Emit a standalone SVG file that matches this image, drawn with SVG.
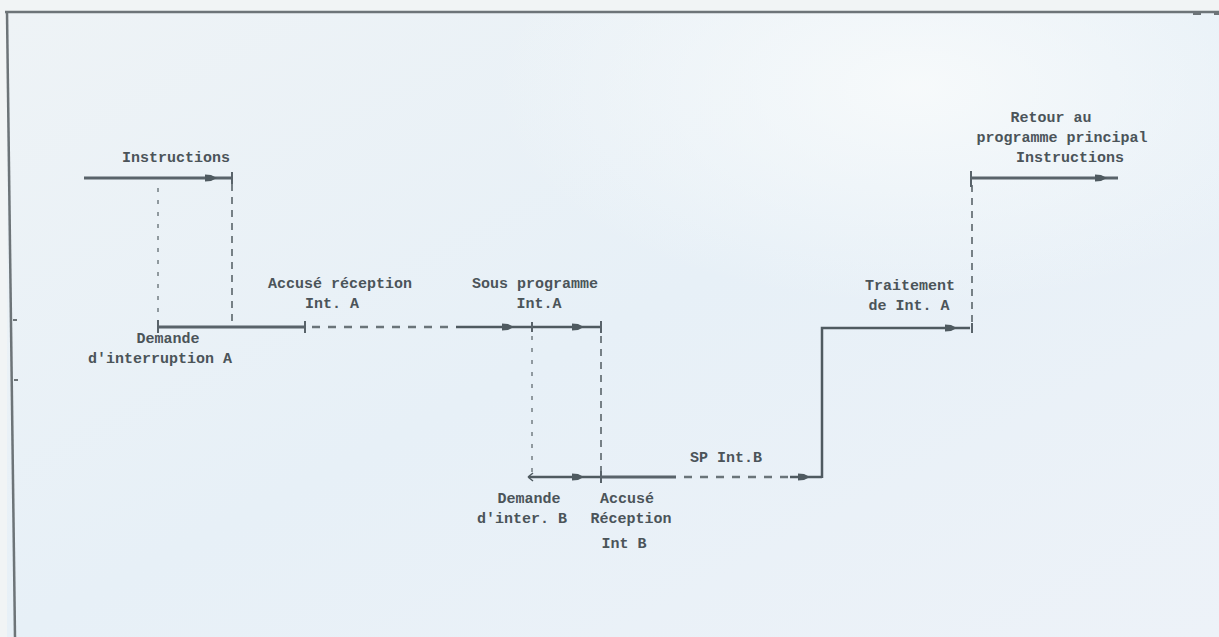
<svg xmlns="http://www.w3.org/2000/svg" width="1219" height="637" viewBox="0 0 1219 637">
  <defs>
    <linearGradient id="bg" x1="0" y1="0" x2="1" y2="1">
      <stop offset="0" stop-color="#eef3f6"/>
      <stop offset="0.5" stop-color="#e7f0f7"/>
      <stop offset="1" stop-color="#edf2f8"/>
    </linearGradient>
    <radialGradient id="glow" cx="0.75" cy="0.12" r="0.35">
      <stop offset="0" stop-color="#f7fafb" stop-opacity="0.95"/>
      <stop offset="1" stop-color="#f7fafb" stop-opacity="0"/>
    </radialGradient>
    <!-- small filled arrowhead sitting on a timing line -->
    <path id="ah" d="M-8,-3.5 L-2,-3 L4,0 L-2,3 L-8,3.5 Z" fill="#4f5a60"/>
    <style>
      .lbl { font-family: "Liberation Mono", "DejaVu Sans Mono", monospace; font-size: 15px; fill: #4b5459; text-anchor: middle; font-weight: bold; }
      .solid { stroke: #59636a; stroke-width: 3; fill: none; }
      .thin { stroke: #4f5a60; stroke-width: 2.5; fill: none; }
      .dash { stroke: #6a7479; stroke-width: 2.5; stroke-dasharray: 8 8; fill: none; }
      .vdash { stroke: #6a7479; stroke-width: 1.8; stroke-dasharray: 7 6; fill: none; }
      .vdot { stroke: #7a8489; stroke-width: 1.6; stroke-dasharray: 4 8; fill: none; }
      .tick { stroke: #59636a; stroke-width: 2; }
    </style>
  </defs>

  <!-- paper -->
  <rect width="1219" height="637" fill="#f1f4f5"/>
  <rect x="7" y="12" width="1212" height="625" fill="url(#bg)"/>
  <rect x="7" y="12" width="1212" height="625" fill="url(#glow)"/>

  <!-- frame -->
  <g id="frame">
    <line x1="5" y1="12" x2="1219" y2="12" stroke="#6d7478" stroke-width="2.5"/>
    <line x1="7" y1="12" x2="15" y2="637" stroke="#6d7478" stroke-width="2.5"/>
    <line x1="13" y1="320" x2="17" y2="320" stroke="#6d7478" stroke-width="2"/>
    <line x1="14" y1="380" x2="18" y2="380" stroke="#6d7478" stroke-width="2"/>
    <line x1="1193" y1="14" x2="1201" y2="14" stroke="#6d7478" stroke-width="2"/>
    <line x1="1214" y1="14" x2="1219" y2="14" stroke="#6d7478" stroke-width="2"/>
  </g>

  <!-- timing lines and transitions -->
  <g id="connectors">
    <!-- main program, instructions -->
    <line class="solid" x1="84" y1="178" x2="231" y2="178"/>
    <line class="tick" x1="232" y1="172" x2="232" y2="184"/>
    <use href="#ah" x="213" y="178"/>
    <line class="vdash" x1="232" y1="184" x2="232" y2="325"/>
    <line class="vdot" x1="158" y1="188" x2="158" y2="325"/>

    <!-- interrupt A request / acknowledge -->
    <line class="solid" x1="158" y1="327" x2="304" y2="327"/>
    <line class="tick" x1="158" y1="320" x2="158" y2="333"/>
    <line class="tick" x1="305" y1="321" x2="305" y2="333"/>
    <line class="dash" x1="312" y1="327" x2="455" y2="327"/>

    <!-- subroutine Int.A -->
    <line class="thin" x1="456" y1="327" x2="600" y2="327"/>
    <use href="#ah" x="510" y="327"/>
    <use href="#ah" x="580" y="327"/>
    <line class="tick" x1="532" y1="322" x2="532" y2="332"/>
    <line class="tick" x1="601" y1="321" x2="601" y2="333"/>
    <line class="vdot" x1="532" y1="336" x2="532" y2="474"/>
    <line class="vdash" x1="601" y1="336" x2="601" y2="472"/>

    <!-- interrupt B -->
    <line class="thin" x1="529" y1="477" x2="600" y2="477"/>
    <path d="M528,477 L533,473 M528,477 L533,481" stroke="#4f5a60" stroke-width="1.5"/>
    <use href="#ah" x="580" y="477"/>
    <line class="tick" x1="601" y1="471" x2="601" y2="483"/>
    <line class="solid" x1="602" y1="477" x2="676" y2="477"/>
    <line class="dash" x1="684" y1="477" x2="790" y2="477"/>
    <line class="thin" x1="790" y1="477" x2="822" y2="477"/>
    <use href="#ah" x="806" y="477"/>

    <!-- return to Int.A processing -->
    <polyline class="thin" points="822,478 822,328 970,328"/>
    <use href="#ah" x="953" y="328"/>
    <line class="tick" x1="972" y1="323" x2="972" y2="333"/>
    <line class="vdash" x1="972" y1="322" x2="972" y2="184"/>

    <!-- back to main program -->
    <line class="tick" x1="971" y1="171" x2="971" y2="187"/>
    <line class="solid" x1="971" y1="178" x2="1118" y2="178"/>
    <use href="#ah" x="1103" y="178"/>
  </g>

  <!-- labels -->
  <g id="n-instructions"><text class="lbl" x="176" y="162">Instructions</text></g>
  <g id="n-demande-a">
    <text class="lbl" x="168" y="343">Demande</text>
    <text class="lbl" x="160" y="363">d'interruption A</text>
  </g>
  <g id="n-accuse-a">
    <text class="lbl" x="340" y="288">Accusé réception</text>
    <text class="lbl" x="332" y="308">Int. A</text>
  </g>
  <g id="n-sp-a">
    <text class="lbl" x="535" y="288">Sous programme</text>
    <text class="lbl" x="539" y="308">Int.A</text>
  </g>
  <g id="n-demande-b">
    <text class="lbl" x="529" y="503">Demande</text>
    <text class="lbl" x="522" y="523">d'inter. B</text>
  </g>
  <g id="n-accuse-b">
    <text class="lbl" x="627" y="503">Accusé</text>
    <text class="lbl" x="631" y="523">Réception</text>
    <text class="lbl" x="624" y="548">Int B</text>
  </g>
  <g id="n-sp-b"><text class="lbl" x="726" y="462">SP Int.B</text></g>
  <g id="n-traitement-a">
    <text class="lbl" x="910" y="290">Traitement</text>
    <text class="lbl" x="909" y="310">de Int. A</text>
  </g>
  <g id="n-retour">
    <text class="lbl" x="1051" y="122">Retour au</text>
    <text class="lbl" x="1062" y="142">programme principal</text>
    <text class="lbl" x="1070" y="162">Instructions</text>
  </g>
</svg>
